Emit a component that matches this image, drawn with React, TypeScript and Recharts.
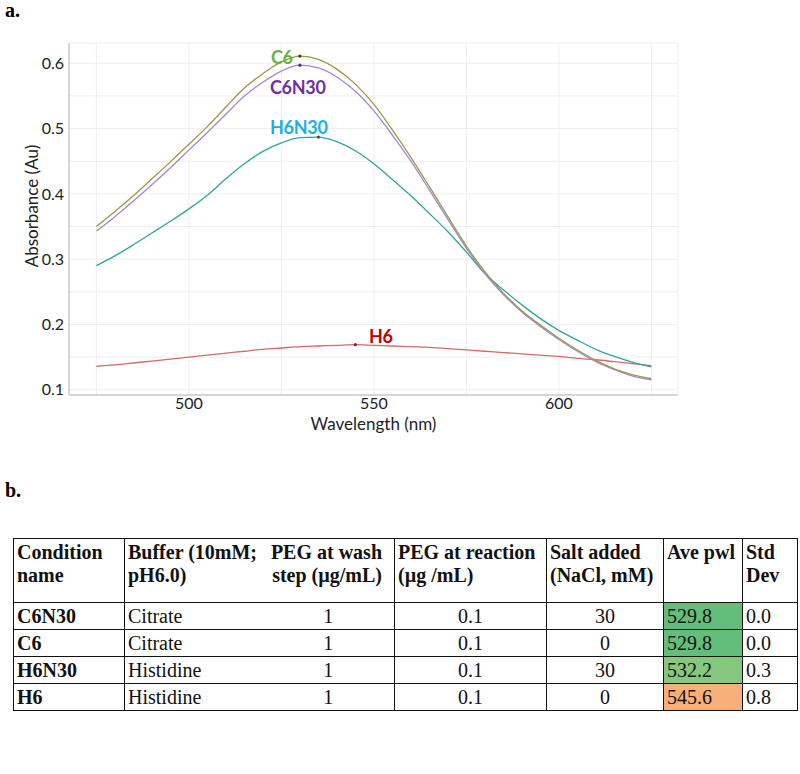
import React from "react";
import {
  LineChart, Line, XAxis, YAxis, CartesianGrid, Label,
} from "recharts";

// absorbance spectra
const wavelengths = [
  475, 480, 485, 490, 495, 500, 505, 510, 515, 520, 525, 530, 535, 540, 545, 550,
  555, 560, 565, 570, 575, 580, 585, 590, 595, 600, 605, 610, 615, 620, 625,
];
const c6 = [
  0.350, 0.373, 0.397, 0.423, 0.449, 0.476, 0.503, 0.533, 0.562, 0.584, 0.602, 0.611, 0.606, 0.591, 0.568, 0.537,
  0.498, 0.456, 0.411, 0.365, 0.320, 0.281, 0.248, 0.221, 0.199, 0.179, 0.161, 0.145, 0.132, 0.123, 0.117,
];
const c6n30 = [
  0.343, 0.365, 0.389, 0.414, 0.440, 0.467, 0.494, 0.522, 0.550, 0.571, 0.588, 0.597, 0.593, 0.579, 0.557, 0.527,
  0.490, 0.450, 0.406, 0.361, 0.317, 0.278, 0.246, 0.219, 0.197, 0.177, 0.159, 0.143, 0.131, 0.121, 0.115,
];
const h6n30 = [
  0.290, 0.305, 0.322, 0.340, 0.358, 0.377, 0.398, 0.423, 0.446, 0.465, 0.478, 0.486, 0.487, 0.480, 0.466, 0.446,
  0.422, 0.397, 0.370, 0.342, 0.311, 0.278, 0.253, 0.230, 0.209, 0.191, 0.176, 0.162, 0.151, 0.142, 0.135,
];
const h6 = [
  0.136, 0.138, 0.141, 0.144, 0.147, 0.150, 0.153, 0.156, 0.159, 0.162, 0.164, 0.166, 0.167, 0.168, 0.169, 0.168,
  0.167, 0.166, 0.165, 0.163, 0.161, 0.159, 0.157, 0.155, 0.153, 0.151, 0.148, 0.146, 0.143, 0.140, 0.137,
];

const xTicks = [475, 500, 525, 550, 575, 600, 625];
const xLabelled = [500, 550, 600];
const yTicks = [0.1, 0.15, 0.2, 0.25, 0.3, 0.35, 0.4, 0.45, 0.5, 0.55, 0.6];
const yLabelled = [0.1, 0.2, 0.3, 0.4, 0.5, 0.6];

// table
const conditions = ["C6N30", "C6", "H6N30", "H6"];
const buffers = ["Citrate", "Citrate", "Histidine", "Histidine"];
const pegWash = ["1", "1", "1", "1"];
const pegReaction = ["0.1", "0.1", "0.1", "0.1"];
const saltAdded = ["30", "0", "30", "0"];
const avePwl = ["529.8", "529.8", "532.2", "545.6"];
const stdDev = ["0.0", "0.0", "0.3", "0.8"];
const aveColors = ["#63be7b", "#63be7b", "#84c77d", "#f8b07a"];

const data = wavelengths.map((w, i) => ({
  w, c6: c6[i], c6n30: c6n30[i], h6n30: h6n30[i], h6: h6[i],
}));

const sans = "Lato, 'Open Sans', sans-serif";
const serif = "'Liberation Serif', 'Times New Roman', serif";

function peakDot(values: number[], color: string) {
  const peak = values.indexOf(Math.max(...values));
  return (props: any) =>
    props.index === peak
      ? <circle key={props.index} cx={props.cx} cy={props.cy} r={1.6} fill={color} />
      : <g key={props.index} />;
}

const seriesLabel = (text: string, color: string, left: number, top: number) => (
  <div style={{
    position: "absolute", left, top, fontFamily: sans, fontWeight: 700, fontSize: 18,
    color, letterSpacing: -0.3, lineHeight: "20px",
  }}>{text}</div>
);

const cellBase: React.CSSProperties = {
  border: "1.5px solid #111", padding: "0 3px", fontFamily: serif, fontSize: 20,
  color: "#111", height: 26, verticalAlign: "middle", lineHeight: "24px",
};

export default function App() {
  const headBase: React.CSSProperties = { ...cellBase, fontWeight: 700, verticalAlign: "top", paddingTop: 2, lineHeight: "23px" };
  return (
    <div style={{ position: "absolute", left: 0, top: 0, width: 800, height: 774, background: "#fff" }}>
      <div style={{ position: "absolute", left: 5, top: 0, fontFamily: serif, fontWeight: 700, fontSize: 20, lineHeight: "20px" }}>a.</div>

      <div style={{ position: "absolute", left: 0, top: 0 }}>
        <LineChart width={800} height={445} data={data} margin={{ top: 43, right: 122, bottom: 0, left: 29 }}>
          <CartesianGrid stroke="#efefef" strokeWidth={1} />
          <XAxis
            dataKey="w" type="number" domain={[467.6, 632.2]} ticks={xTicks} height={50}
            tickFormatter={(v: number) => (xLabelled.includes(v) ? String(v) : "")}
            tickLine={false} tickSize={3} tickMargin={0} axisLine={{ stroke: "#d6d6d6", strokeWidth: 2 }}
            tick={{ fontFamily: sans, fontSize: 16, fill: "#222" }} allowDataOverflow
          >
            <Label content={(p: any) => (
              <text x={p.viewBox.x + p.viewBox.width / 2} y={p.viewBox.y + 35} textAnchor="middle"
                fontFamily={sans} fontSize={17} fill="#222">Wavelength (nm)</text>
            )} />
          </XAxis>
          <XAxis xAxisId="top" orientation="top" dataKey="w" type="number" domain={[467.6, 632.2]}
            height={0} tick={false} tickLine={false} axisLine={{ stroke: "#d6d6d6", strokeWidth: 2 }} allowDataOverflow />
          <YAxis
            type="number" domain={[0.092, 0.631]} ticks={yTicks} width={40}
            tickFormatter={(v: number) => (yLabelled.some((t) => Math.abs(t - v) < 1e-6) ? v.toFixed(1) : "")}
            tickLine={false} tickSize={3} tickMargin={2} axisLine={{ stroke: "#d6d6d6", strokeWidth: 2 }}
            tick={{ fontFamily: sans, fontSize: 16, fill: "#222" }} allowDataOverflow
          >
            <Label content={() => (
              <text x={31} y={206} transform="rotate(-90 31 206)" textAnchor="middle" dominantBaseline="central"
                fontFamily={sans} fontSize={17} fill="#222">Absorbance (Au)</text>
            )} />
          </YAxis>
          <YAxis yAxisId="right" orientation="right" type="number" domain={[0.092, 0.631]} width={0}
            tick={false} tickLine={false} axisLine={{ stroke: "#d6d6d6", strokeWidth: 2 }} allowDataOverflow />
          <Line dataKey="h6" type="monotone" stroke="#d46a6a" strokeWidth={1.3} dot={peakDot(h6, "#8a2020")} isAnimationActive={false} />
          <Line dataKey="h6n30" type="monotone" stroke="#2fa5a0" strokeWidth={1.3} dot={peakDot(h6n30, "#1d5f5c")} isAnimationActive={false} />
          <Line dataKey="c6n30" type="monotone" stroke="#a586d2" strokeWidth={1.3} dot={peakDot(c6n30, "#4b2f7a")} isAnimationActive={false} />
          <Line dataKey="c6" type="monotone" stroke="#9a9a48" strokeWidth={1.3} dot={peakDot(c6, "#3d3d1a")} isAnimationActive={false} />
        </LineChart>
      </div>

      {seriesLabel("C6", "#70ad47", 271, 47)}
      {seriesLabel("C6N30", "#7030a0", 270, 77)}
      {seriesLabel("H6N30", "#1cb0e2", 270, 117)}
      {seriesLabel("H6", "#c00000", 369, 326)}

      <div style={{ position: "absolute", left: 5, top: 480, fontFamily: serif, fontWeight: 700, fontSize: 20, lineHeight: "20px" }}>b.</div>

      <table style={{
        position: "absolute", left: 13, top: 538, width: 784, borderCollapse: "collapse", tableLayout: "fixed",
      }}>
        <colgroup>
          <col style={{ width: 111 }} />
          <col style={{ width: 138 }} />
          <col style={{ width: 132 }} />
          <col style={{ width: 152 }} />
          <col style={{ width: 117 }} />
          <col style={{ width: 79 }} />
          <col style={{ width: 55 }} />
        </colgroup>
        <thead>
          <tr style={{ height: 64 }}>
            <th style={{ ...headBase, textAlign: "left" }}>Condition name</th>
            <th style={{ ...headBase, textAlign: "left", borderRight: "none", whiteSpace: "nowrap" }}>Buffer (10mM;<br />pH6.0)</th>
            <th style={{ ...headBase, textAlign: "right", borderLeft: "none", paddingRight: 12, whiteSpace: "nowrap" }}>PEG at wash<br />step (µg/mL)</th>
            <th style={{ ...headBase, textAlign: "left", whiteSpace: "nowrap" }}>PEG at reaction<br />(µg /mL)</th>
            <th style={{ ...headBase, textAlign: "left", whiteSpace: "nowrap" }}>Salt added<br />(NaCl, mM)</th>
            <th style={{ ...headBase, textAlign: "left", whiteSpace: "nowrap" }}>Ave pwl</th>
            <th style={{ ...headBase, textAlign: "left" }}>Std<br />Dev</th>
          </tr>
        </thead>
        <tbody>
          {conditions.map((c, i) => (
            <tr key={c} style={{ height: 27 }}>
              <td style={{ ...cellBase, fontWeight: 700 }}>{c}</td>
              <td style={{ ...cellBase, borderRight: "none" }}>{buffers[i]}</td>
              <td style={{ ...cellBase, borderLeft: "none", textAlign: "center" }}>{pegWash[i]}</td>
              <td style={{ ...cellBase, textAlign: "center" }}>{pegReaction[i]}</td>
              <td style={{ ...cellBase, textAlign: "center" }}>{saltAdded[i]}</td>
              <td style={{ ...cellBase, background: aveColors[i] }}>{avePwl[i]}</td>
              <td style={{ ...cellBase }}>{stdDev[i]}</td>
            </tr>
          ))}
        </tbody>
      </table>
    </div>
  );
}
